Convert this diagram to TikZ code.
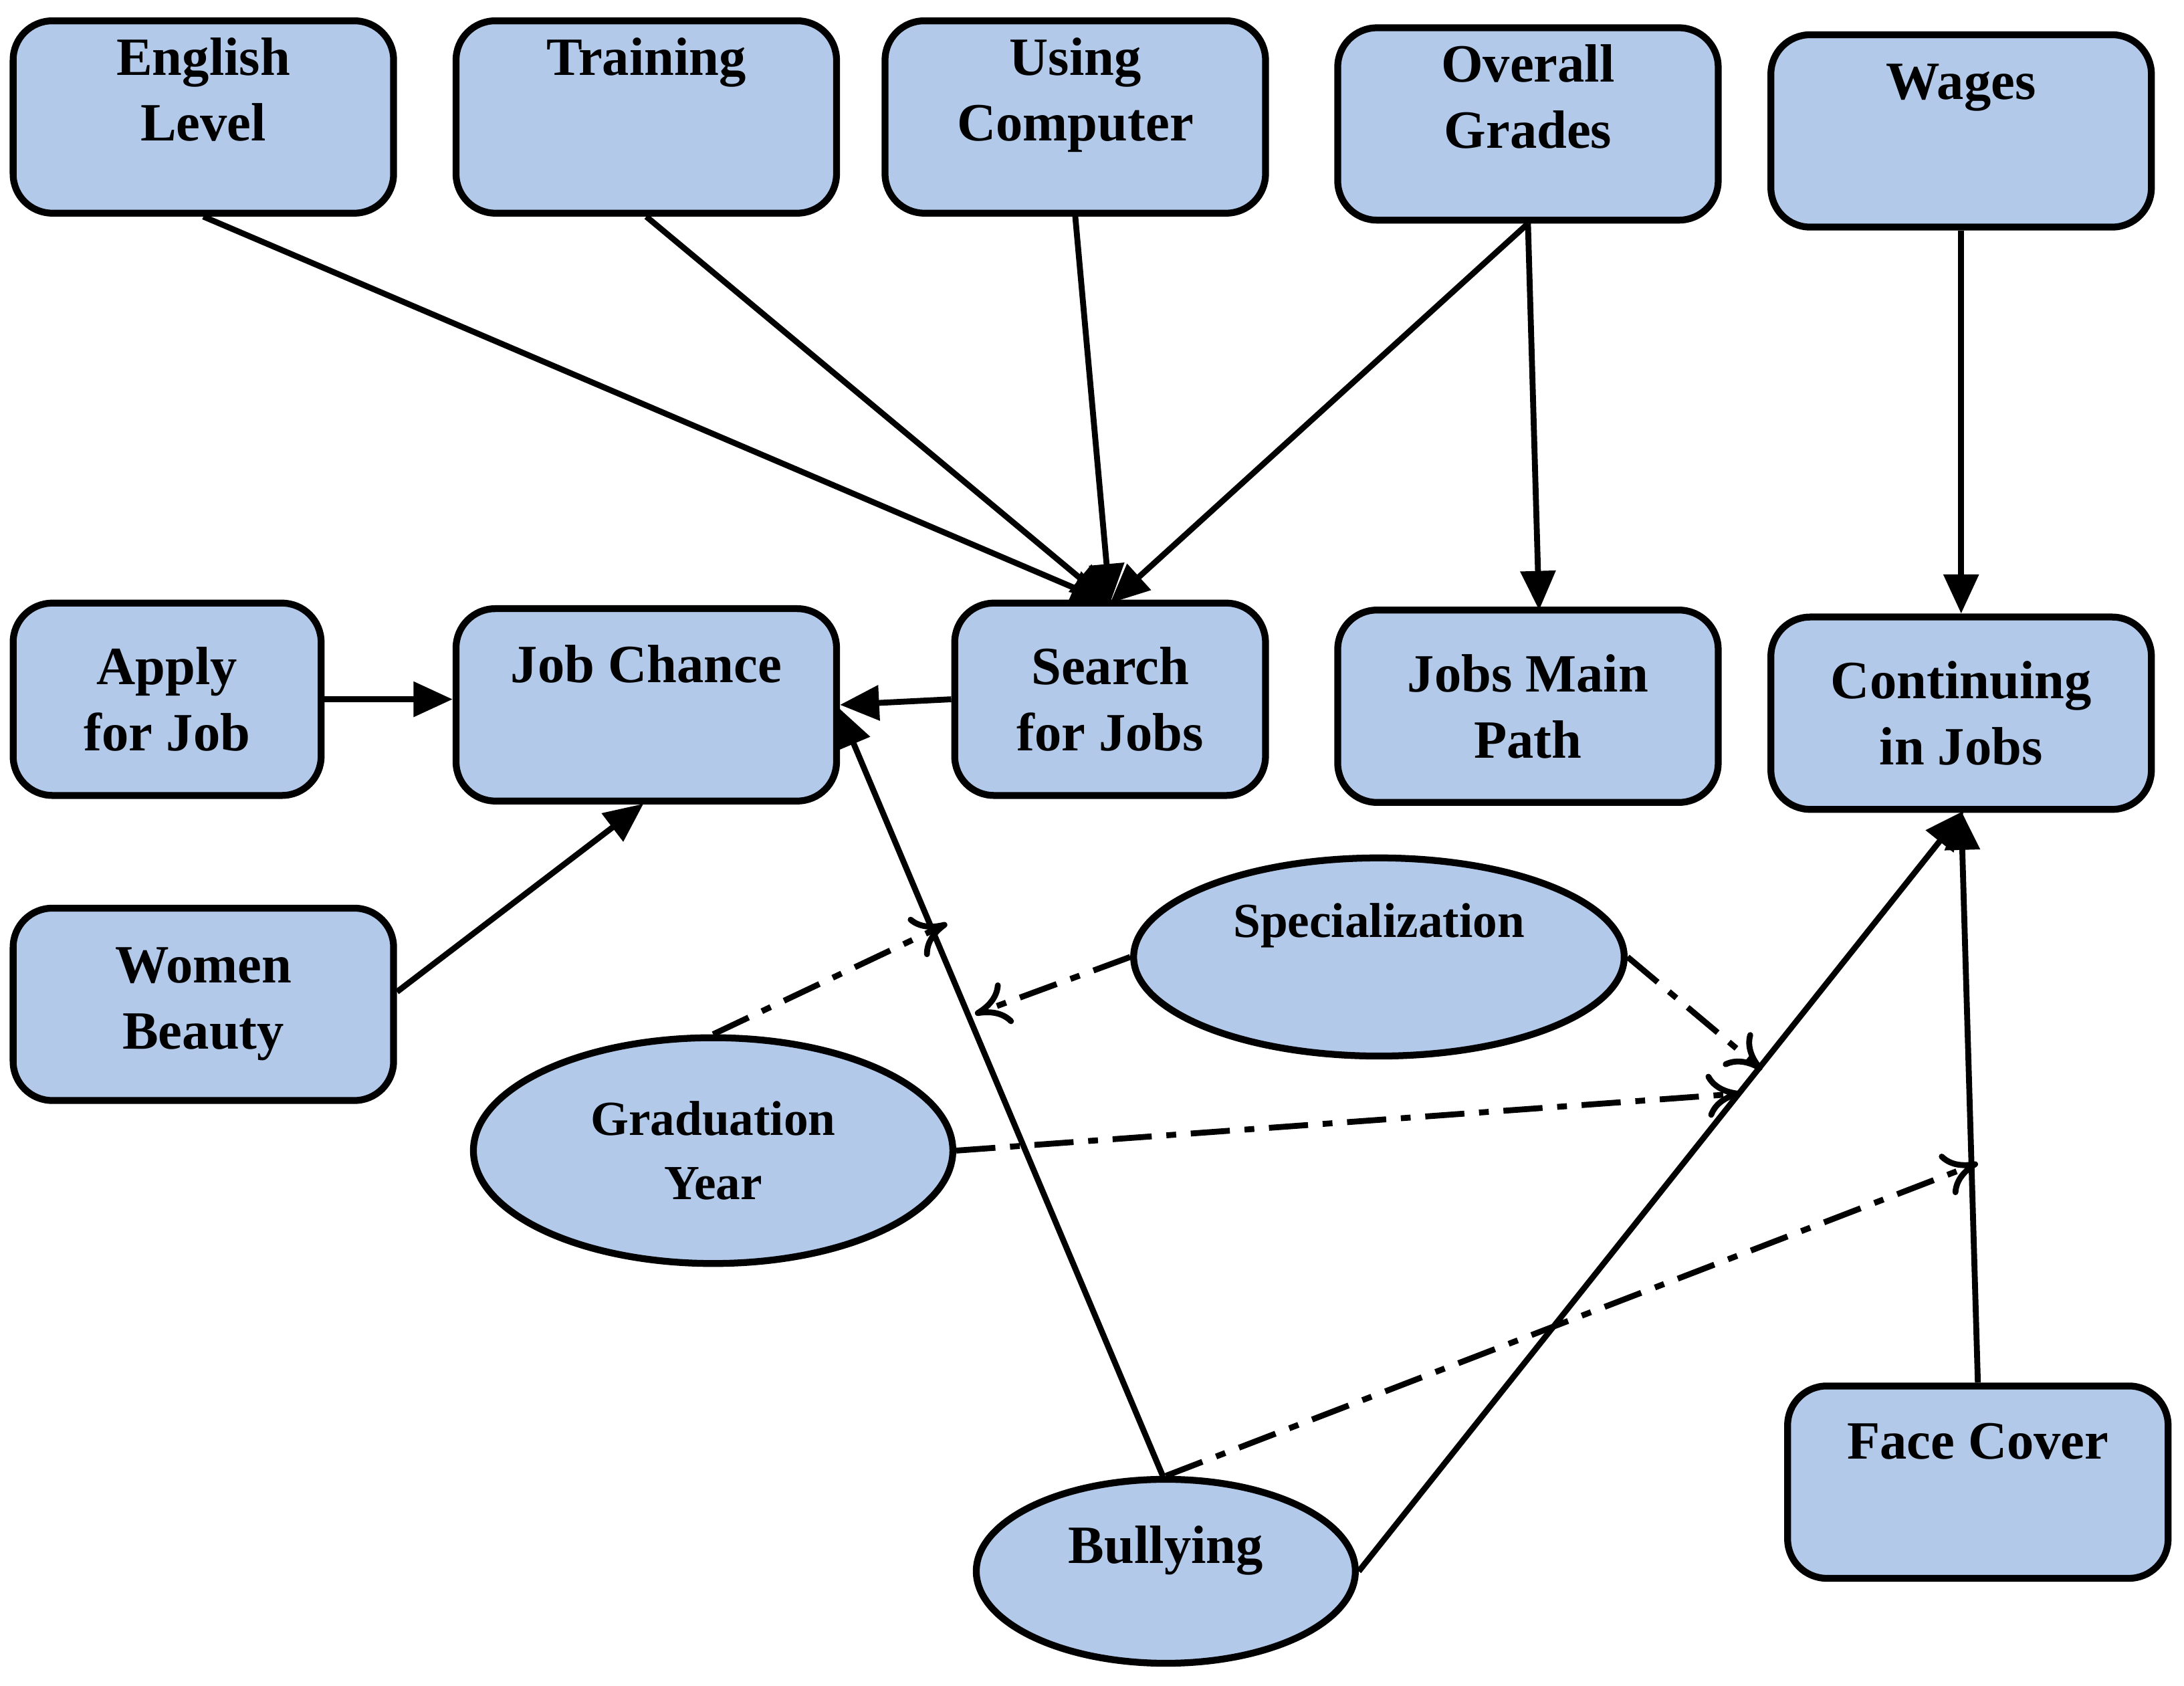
\documentclass[tikz,border=0pt]{standalone}
\usepackage{fontspec}
\setmainfont{Liberation Serif}
\usetikzlibrary{shapes.geometric,arrows.meta}
\definecolor{boxfill}{HTML}{B2C9EA}
\begin{document}
\begin{tikzpicture}[x=0.01cm,y=-0.01cm,
  box/.style={draw=black,line width=1.4pt,fill=boxfill,rounded corners=8pt,minimum width=2.73cm,minimum height=1.38cm,align=center,font=\bfseries\fontsize{11}{13.5}\selectfont},
  ell/.style={draw=black,line width=1.4pt,fill=boxfill,ellipse,align=center,font=\bfseries\fontsize{10}{13}\selectfont},
  arr/.style={line width=1.2pt,-{Triangle[length=8pt,width=7pt]}},
  dd/.style={line width=1.2pt,dash pattern=on 8pt off 3pt on 2pt off 3pt,-{To[length=7pt,width=9pt]}}]
\useasboundingbox (0,0) rectangle (1568,1210);
\node[box] (eng) at (146,84) {English\\Level\\[-0.2em]\phantom{x}};
\node[box] (tra) at (464,84) {Training\\\phantom{x}\\[-0.2em]\phantom{x}};
\node[box] (com) at (772,84) {Using\\Computer\\[-0.2em]\phantom{x}};
\node[box] (gra) at (1097,89) {Overall\\Grades\\[-0.2em]\phantom{x}};
\node[box] (wag) at (1408,94) {Wages\\[0.6em]\phantom{x}};
\node[box,minimum width=2.21cm] (app) at (120,502) {Apply\\for Job};
\node[box] (jc) at (464,506) {Job Chance\\[0.3em]\phantom{x}};
\node[box,minimum width=2.23cm] (sea) at (797,502) {Search\\for Jobs};
\node[box] (jmp) at (1097,507) {Jobs Main\\Path};
\node[box] (con) at (1408,512) {Continuing\\in Jobs};
\node[box] (wom) at (146,721) {Women\\Beauty};
\node[box] (fac) at (1420,1064) {Face Cover\\[0.3em]\phantom{x}};
\node[ell,minimum width=3.52cm,minimum height=1.36cm] (spe) at (990,687) {Specialization\\[0.2em]\phantom{x}};
\node[ell,minimum width=3.44cm,minimum height=1.62cm] (gy) at (512,826) {Graduation\\Year};
\node[ell,minimum width=2.72cm,minimum height=1.32cm,font=\bfseries\fontsize{11}{13}\selectfont] (bul) at (837,1128) {Bullying\\[-0.2em]\phantom{x}};
\coordinate (st) at (797,433);
\draw[arr] (eng.south) -- (st);
\draw[arr] (tra.south) -- (st);
\draw[arr] (com.south) -- (st);
\draw[arr] (gra.south) -- (st);
\draw[arr] (gra.south) -- (1105,438);
\draw[arr] (wag.south) -- (con.north);
\draw[arr] (app.east) -- (jc.west|-app.east);
\draw[arr] (sea.west) -- (jc.east);
\draw[arr] (wom.east) ++(0,-9) -- (462,577);
\draw[arr] (835,1060) -- (602,508);
\draw[arr] (bul.east) -- (1410,582);
\draw[arr] (fac.north) -- (1408,582);
\coordinate (d1) at (680,663);
\coordinate (d2) at (700,728);
\coordinate (d3) at (1265,768);
\coordinate (d4) at (1250,785);
\coordinate (d5) at (1420,835);
\draw[dd] (gy.north) -- (d1);
\draw[dd] (spe.west) -- (d2);
\draw[dd] (spe.east) -- (d3);
\draw[dd] (gy.east) -- (d4);
\draw[dd] (bul.north) -- (d5);
\end{tikzpicture}
\end{document}
